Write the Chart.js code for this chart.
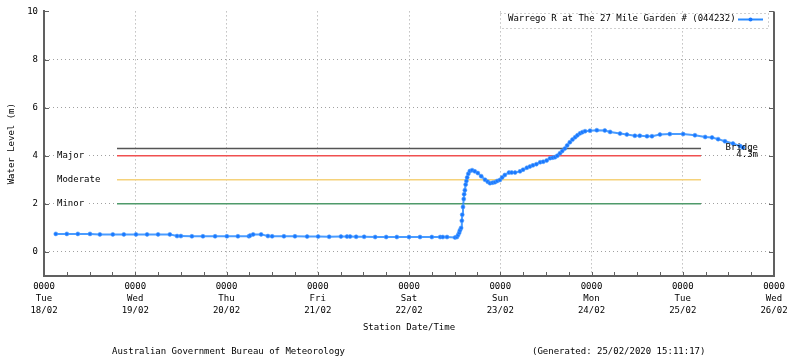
<!DOCTYPE html>
<html>
<head>
<meta charset="utf-8">
<script src="https://cdn.jsdelivr.net/npm/chart.js@4/dist/chart.umd.min.js"></script>
<style>
html,body{margin:0;padding:0;background:#fff;}
#wrap{width:800px;height:358px;}
</style>
</head>
<body>
<div id="wrap"><canvas id="c" width="800" height="358"></canvas></div>
<script>
// ---- data (hours since Tue 18/02 00:00, water level in metres) ----
const seriesLabel = 'Warrego R at The 27 Mile Garden # (044232)';
const hours = [3.1,6.0,8.9,12.1,14.7,18.1,21.0,24.2,27.1,30.0,33.1,35.0,36.0,38.9,41.8,45.0,48.1,51.0,53.9,54.2,55.0,57.1,58.9,60.0,63.1,66.0,69.2,72.1,75.0,78.1,79.7,80.5,82.1,84.2,87.1,90.0,92.8,96.0,98.9,102.0,104.2,104.9,106.0,108.1,108.6,108.9,109.2,109.4,109.7,109.9,110.0,110.2,110.4,110.5,110.7,110.9,111.1,111.3,111.6,112.0,112.6,113.3,114.1,115.0,116.0,116.7,117.3,118.0,118.6,119.2,119.9,120.5,121.2,122.3,123.0,123.9,125.2,126.0,127.0,127.8,128.6,129.5,130.5,131.3,132.2,133.1,133.8,134.4,135.0,135.7,136.3,137.0,137.6,138.3,139.0,139.7,140.3,141.0,141.6,142.3,143.6,145.4,147.5,148.9,151.5,153.3,155.4,156.7,158.6,159.9,162.0,164.6,168.1,171.2,173.9,175.7,177.3,179.1,181.2,183.1,183.8];
const levels = [0.75,0.75,0.75,0.75,0.73,0.73,0.73,0.73,0.73,0.73,0.73,0.66,0.66,0.65,0.65,0.65,0.65,0.65,0.65,0.68,0.73,0.73,0.66,0.65,0.65,0.65,0.64,0.64,0.63,0.64,0.64,0.64,0.63,0.63,0.62,0.62,0.62,0.62,0.62,0.62,0.62,0.62,0.62,0.60,0.62,0.70,0.80,0.90,1.00,1.30,1.55,1.87,2.20,2.40,2.57,2.80,2.95,3.10,3.25,3.36,3.40,3.35,3.28,3.15,3.00,2.92,2.86,2.88,2.90,2.95,2.99,3.10,3.20,3.30,3.30,3.30,3.35,3.42,3.50,3.55,3.60,3.65,3.73,3.75,3.80,3.90,3.92,3.94,4.00,4.10,4.20,4.30,4.43,4.56,4.67,4.77,4.85,4.93,4.98,5.02,5.04,5.06,5.05,4.99,4.92,4.88,4.83,4.83,4.81,4.81,4.88,4.90,4.90,4.85,4.78,4.76,4.69,4.60,4.51,4.40,4.34];

const thresholdNames = ['Bridge','Major','Moderate','Minor'];
const thresholdLevels = [4.3, 4, 3, 2];
const thresholdStart = 19.2;   // hours
const thresholdEnd = 172.8;    // hours

const dayNames = ['Tue','Wed','Thu','Fri','Sat','Sun','Mon','Tue','Wed'];
const dayDates = ['18/02','19/02','20/02','21/02','22/02','23/02','24/02','25/02','26/02'];
const yTicks = [0,2,4,6,8,10];
const footerLeft = 'Australian Government Bureau of Meteorology';
const footerRight = '(Generated: 25/02/2020 15:11:17)';

// ---- styles ----
const FONT = '"DejaVu Sans Mono", "Liberation Mono", monospace';
const thresholdColors = ['#555555','#f05050','#f5d27a','#4f9a6a'];
const seriesColor = '#2a8bff';
const gridColor = '#a0a0a0';
const axisColor = '#606060';

const datasets = [{
  label: seriesLabel,
  data: hours.map((h,i)=>({x:h, y:levels[i]})),
  borderColor: 'rgba(42,139,255,0.85)',
  borderWidth: 2,
  pointRadius: 2,
  pointBackgroundColor: '#1a78ff',
  pointBorderColor: 'rgba(80,160,255,0.6)',
  pointBorderWidth: 1,
  tension: 0,
  order: 0
}];
thresholdNames.forEach((n,i)=>{
  datasets.push({
    label: n,
    data: [{x:thresholdStart,y:thresholdLevels[i]},{x:thresholdEnd,y:thresholdLevels[i]}],
    borderColor: thresholdColors[i],
    borderWidth: 1.5,
    pointRadius: 0,
    order: 1
  });
});

const decor = {
  id: 'decor',
  beforeDatasetsDraw(chart){
    const {ctx, chartArea:a, scales:{x,y}} = chart;
    ctx.save();
    ctx.font = '9px ' + FONT;
    ctx.textBaseline = 'middle';
    for (let i=1;i<thresholdNames.length;i++){
      const py = y.getPixelForValue(thresholdLevels[i]);
      const t = thresholdNames[i];
      const w = ctx.measureText(t).width;
      const px = a.left + 13;
      ctx.fillStyle = '#fff';
      ctx.fillRect(px-2, py-6, w+4, 12);
      ctx.fillStyle = '#000';
      ctx.textAlign = 'left';
      ctx.fillText(t, px, py);
    }
    ctx.restore();
  },
  afterDraw(chart){
    const {ctx, chartArea:a, scales:{x,y}} = chart;
    ctx.save();
    ctx.strokeStyle = axisColor; ctx.lineWidth = 2;
    ctx.beginPath(); ctx.moveTo(a.right, a.top); ctx.lineTo(a.right, a.bottom+1); ctx.stroke();
    ctx.lineWidth = 1;
    for (let h=0; h<=192; h+=6){
      const px = Math.round(x.getPixelForValue(h))+0.5;
      ctx.beginPath(); ctx.moveTo(px, a.bottom); ctx.lineTo(px, a.bottom-4); ctx.stroke();
    }
    yTicks.forEach(v=>{
      const py = Math.round(y.getPixelForValue(v))+0.5;
      ctx.beginPath(); ctx.moveTo(a.left, py); ctx.lineTo(a.left+5, py); ctx.stroke();
      ctx.beginPath(); ctx.moveTo(a.right, py); ctx.lineTo(a.right-5, py); ctx.stroke();
    });
    ctx.font = '9px ' + FONT;
    ctx.fillStyle = '#000';
    ctx.textBaseline = 'middle';
    const by = y.getPixelForValue(thresholdLevels[0]);
    ctx.textAlign = 'right';
    ctx.fillText(thresholdNames[0], a.right - 16, by - 0.5);
    ctx.fillText(thresholdLevels[0] + 'm', a.right - 16, by + 6.5);
    const lx0 = a.left + 456, ly0 = 13, lx1 = a.right - 6, ly1 = 28;
    ctx.fillStyle = '#fff';
    ctx.fillRect(lx0, ly0, lx1-lx0, ly1-ly0);
    ctx.strokeStyle = gridColor; ctx.setLineDash([1,3]);
    ctx.strokeRect(lx0+0.5, ly0+0.5, lx1-lx0, ly1-ly0);
    ctx.setLineDash([]);
    ctx.fillStyle = '#000'; ctx.textAlign = 'left';
    ctx.fillText(seriesLabel, lx0 + 8, 19);
    ctx.strokeStyle = seriesColor; ctx.lineWidth = 2;
    ctx.beginPath(); ctx.moveTo(lx1-30, 19.5); ctx.lineTo(lx1-5, 19.5); ctx.stroke();
    ctx.fillStyle = '#1a78ff';
    ctx.beginPath(); ctx.arc(lx1-17.5, 19.5, 2, 0, Math.PI*2); ctx.fill();
    ctx.fillStyle = '#000'; ctx.textAlign = 'left';
    ctx.fillText(footerLeft, 112, 352);
    ctx.fillText(footerRight, 532, 352);
    ctx.restore();
  }
};

new Chart(document.getElementById('c'), {
  type: 'line',
  data: { datasets },
  plugins: [decor],
  options: {
    responsive: false,
    animation: false,
    layout: { padding: { top: 11, right: 26, left: 0, bottom: 0 } },
    plugins: { legend: { display: false }, tooltip: { enabled: false } },
    scales: {
      x: {
        type: 'linear', min: 0, max: 192,
        afterFit(s){ s.height = 82; },
        afterBuildTicks(s){ s.ticks = dayNames.map((d,i)=>({value:i*24})); },
        ticks: {
          autoSkip: false, maxRotation: 0, padding: 5, color: '#000',
          font: { family: FONT, size: 9, lineHeight: 1.33 },
          callback(v){ const i = Math.round(v/24); return ['0000', dayNames[i], dayDates[i]]; }
        },
        grid: {
          drawTicks: false, lineWidth: 1,
          color(ctx){ const v = ctx.tick && ctx.tick.value; return (v>0 && v<192) ? gridColor : 'rgba(0,0,0,0)'; }
        },
        border: { display: true, color: axisColor, width: 2, dash: [1,3] },
        title: { display: true, text: 'Station Date/Time', color: '#000', font: { family: FONT, size: 9 }, padding: { top: 0, bottom: 25 } }
      },
      y: {
        type: 'linear', min: -1, max: 10,
        afterFit(s){ s.width = 44; },
        afterBuildTicks(s){ s.ticks = yTicks.map(v=>({value:v})); },
        ticks: { padding: 6, color: '#000', font: { family: FONT, size: 9 } },
        grid: {
          drawTicks: false, lineWidth: 1,
          color(ctx){ const v = ctx.tick && ctx.tick.value; return (v<10) ? gridColor : 'rgba(0,0,0,0)'; }
        },
        border: { display: true, color: axisColor, width: 2, dash: [1,3] },
        title: { display: true, text: 'Water Level (m)', color: '#000', font: { family: FONT, size: 9 }, padding: { top: 6.5, bottom: 0 } }
      }
    }
  }
});
</script>
</body>
</html>
